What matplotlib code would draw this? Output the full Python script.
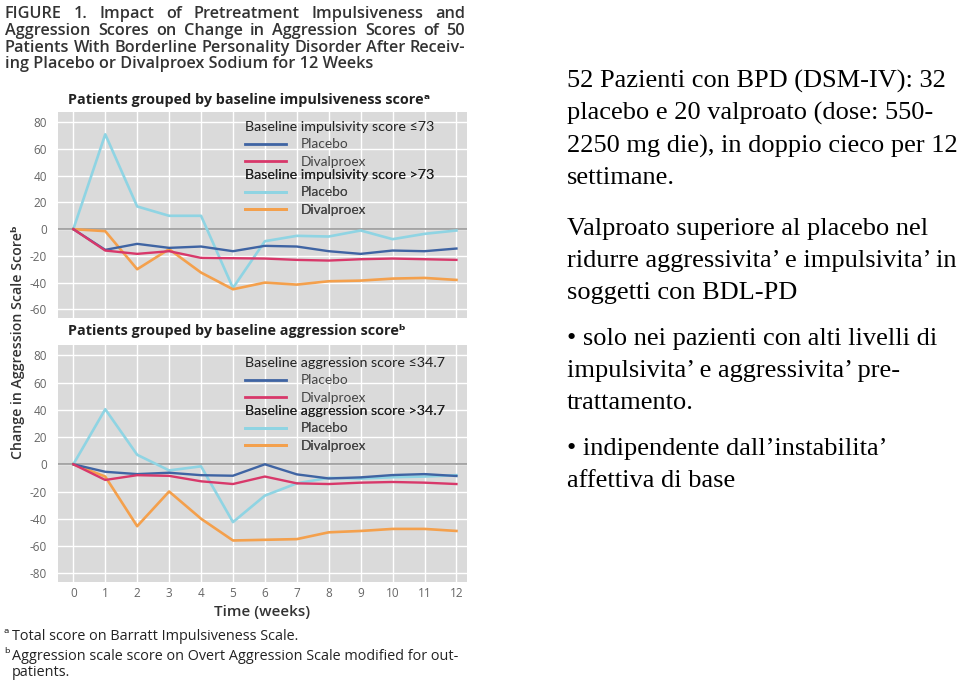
import matplotlib
matplotlib.use("Agg")
import matplotlib.pyplot as plt
from matplotlib.lines import Line2D

# ---------------- data ----------------
weeks = list(range(13))
week_labels = [str(w) for w in weeks]

imp_low_placebo = [0, -15.5, -11, -14, -13, -16.5, -12.5, -13, -16.5, -18.5, -16, -16.5, -14.5]
imp_low_dival = [0, -16, -18.5, -16.5, -21.5, -21.75, -22, -23, -23.5, -22.5, -22, -22.5, -23]
imp_high_placebo = [0, 71, 17, 10, 10, -44, -9, -5, -5.5, -1, -7.5, -3.5, -1]
imp_high_dival = [0, -1.5, -30, -15, -32.5, -45, -40, -41.5, -39, -38.5, -37, -36.5, -38]

agg_low_placebo = [0, -5.5, -7.2, -6.2, -8, -8.4, 0, -7.4, -10.4, -9.6, -7.9, -7.2, -8.6]
agg_low_dival = [0, -11.5, -8, -8.5, -12.5, -14.5, -9, -14, -14.5, -13.5, -13, -13.5, -14.5]
agg_high_placebo = [0, 40.5, 7, -4.5, -1.5, -42.5, -23, -14, -10, -10.5, -9.5, -9, -8]
agg_high_dival = [0, -9, -45.5, -20, -40, -56, -55.5, -55, -50, -49, -47.5, -47.5, -49]

top_yticks = [-60, -40, -20, 0, 20, 40, 60, 80]
bot_yticks = [-80, -60, -40, -20, 0, 20, 40, 60, 80]

title_lines = [
    "FIGURE 1. Impact of Pretreatment Impulsiveness and",
    "Aggression Scores on Change in Aggression Scores of 50",
    "Patients With Borderline Personality Disorder After Receiv-",
    "ing Placebo or Divalproex Sodium for 12 Weeks",
]
top_subtitle = "Patients grouped by baseline impulsiveness score\u1d43"
bot_subtitle = "Patients grouped by baseline aggression score\u1d47"
top_headers = ["Baseline impulsivity score \u226473", "Baseline impulsivity score >73"]
bot_headers = ["Baseline aggression score \u226434.7", "Baseline aggression score >34.7"]
series_names = ["Placebo", "Divalproex"]
ylabel = "Change in Aggression Scale Score\u1d47"
xlabel = "Time (weeks)"
footnotes = [
    ("\u1d43", "Total score on Barratt Impulsiveness Scale.", 636),
    ("\u1d47", "Aggression scale score on Overt Aggression Scale modified for out-", 656),
    ("", "patients.", 673),
]
right_lines = [
    ("52 Pazienti con BPD (DSM-IV): 32", 81),
    ("placebo e 20 valproato (dose: 550-", 113),
    ("2250 mg die), in doppio cieco per 12", 146),
    ("settimane.", 178),
    ("Valproato superiore al placebo nel", 229),
    ("ridurre aggressivita\u2019 e impulsivita\u2019 in", 261),
    ("soggetti con BDL-PD", 293),
    ("\u2022 solo nei pazienti con alti livelli di", 339),
    ("impulsivita\u2019 e aggressivita\u2019 pre-", 371),
    ("trattamento.", 403),
    ("\u2022 indipendente dall\u2019instabilita\u2019", 449),
    ("affettiva di base", 481),
]

# ---------------- style ----------------
C_DARK = "#3f64a3"
C_RED = "#d8386a"
C_LIGHT = "#8fd4e3"
C_ORANGE = "#f4a04c"
BG = "#dadada"
SANS = ["Open Sans", "DejaVu Sans"]
NARROW = ["Lato", "DejaVu Sans"]

W, H = 960, 682
fig = plt.figure(figsize=(W / 100, H / 100), dpi=100)
renderer = fig.canvas.get_renderer()

def fx(px):
    return px / W

def fy(py):
    return 1 - py / H

def setup(ax, ylim, yticks):
    ax.set_facecolor(BG)
    ax.set_xlim(-0.48, 12.33)
    ax.set_ylim(*ylim)
    ax.set_xticks(weeks)
    ax.set_yticks(yticks)
    ax.set_yticklabels([str(t) for t in yticks], family=SANS, fontsize=8.5, color="#666666")
    ax.grid(True, color="white", lw=1.0)
    ax.set_axisbelow(True)
    for s in ax.spines.values():
        s.set_visible(False)
    ax.tick_params(length=0, pad=8)
    ax.axhline(0, color="#9a9a9a", lw=1.2, zorder=1.5)

def legends(ax, headers, x0, tops):
    pairs = [(C_DARK, C_RED), (C_LIGHT, C_ORANGE)]
    for hdr, (c1, c2), top in zip(headers, pairs, tops):
        handles = [Line2D([], [], color=c1, lw=2), Line2D([], [], color=c2, lw=2)]
        leg = ax.legend(handles, series_names, loc="upper left", bbox_to_anchor=(x0, top),
                        frameon=False, borderpad=0, borderaxespad=0, handlelength=3.0,
                        handletextpad=1.1, labelspacing=0.4, title=hdr,
                        prop={"family": NARROW, "size": 9.8}, alignment="left")
        leg.get_title().set_fontfamily(NARROW)
        leg.get_title().set_fontsize(10.3)
        leg.get_title().set_color("#222222")
        for t in leg.get_texts():
            t.set_color("#444444")
        ax.add_artist(leg)

# top axes
ax1 = fig.add_axes([fx(58), fy(318), fx(409), 206 / H])
setup(ax1, (-66.5, 87.7), top_yticks)
ax1.set_xticklabels([])
ax1.plot(weeks, imp_low_placebo, color=C_DARK, lw=1.7, zorder=3)
ax1.plot(weeks, imp_low_dival, color=C_RED, lw=1.7, zorder=3)
ax1.plot(weeks, imp_high_placebo, color=C_LIGHT, lw=1.9, zorder=2.5)
ax1.plot(weeks, imp_high_dival, color=C_ORANGE, lw=1.9, zorder=2.5)
legends(ax1, top_headers, (245 - 58) / 409, [(318 - 121) / 206, (318 - 169) / 206])

# bottom axes
ax2 = fig.add_axes([fx(58), fy(581.7), fx(409), 236.7 / H])
setup(ax2, (-86.3, 87.7), bot_yticks)
ax2.set_xticklabels(week_labels, family=SANS, fontsize=8.5, color="#666666")
ax2.tick_params(axis="x", pad=4)
ax2.plot(weeks, agg_low_placebo, color=C_DARK, lw=1.7, zorder=3)
ax2.plot(weeks, agg_low_dival, color=C_RED, lw=1.7, zorder=3)
ax2.plot(weeks, agg_high_placebo, color=C_LIGHT, lw=1.9, zorder=2.5)
ax2.plot(weeks, agg_high_dival, color=C_ORANGE, lw=1.9, zorder=2.5)
legends(ax2, bot_headers, (245 - 58) / 409, [(581.7 - 357) / 236.7, (581.7 - 405) / 236.7])

# title: lines 1-3 justified to full width, last line left aligned
title_kw = dict(family=SANS, fontsize=11.7, fontweight="semibold", color="#333333",
                va="center", ha="left")
x_left, x_right = 5, 465
for i, (line, y) in enumerate(zip(title_lines, [14, 31, 48, 64])):
    if i == len(title_lines) - 1:
        fig.text(fx(x_left), fy(y), line, **title_kw)
        continue
    words = line.split(" ")
    widths = []
    for wd in words:
        t = fig.text(0, 0, wd, **title_kw)
        widths.append(t.get_window_extent(renderer).width)
        t.remove()
    gap = (x_right - x_left - sum(widths)) / (len(words) - 1)
    xpos = x_left
    for wd, wdt in zip(words, widths):
        fig.text(fx(xpos), fy(y), wd, **title_kw)
        xpos += wdt + gap

fig.text(fx(68), fy(100), top_subtitle, family=SANS, fontsize=10.4, fontweight="bold",
         color="#222222", va="center", ha="left")
fig.text(fx(68), fy(331), bot_subtitle, family=SANS, fontsize=10.4, fontweight="bold",
         color="#222222", va="center", ha="left")
fig.text(fx(18), fy(342), ylabel, family=SANS, fontsize=10.2, fontweight="semibold",
         color="#333333", rotation=90, va="center", ha="center")
fig.text(fx(262), fy(612), xlabel, family=SANS, fontsize=11, fontweight="semibold",
         color="#333333", va="center", ha="center")
for sup, line, y in footnotes:
    if sup:
        fig.text(fx(4), fy(y - 2), sup, family=["DejaVu Sans"], fontsize=10,
                 color="#222222", va="center", ha="left")
    fig.text(fx(12), fy(y), line, family=SANS, fontsize=10.4, color="#222222",
             va="center", ha="left")

for line, y in right_lines:
    fig.text(fx(567), fy(y), line, family=["Liberation Serif", "DejaVu Serif"], fontsize=19,
             color="black", va="center", ha="left")

fig.savefig("out.png", dpi=100)
